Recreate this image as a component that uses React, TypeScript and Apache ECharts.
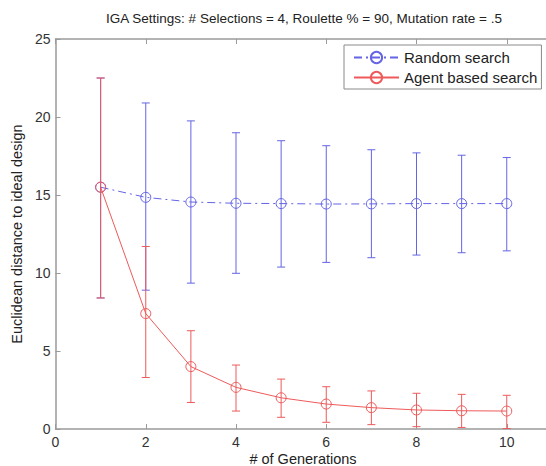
import React, { useEffect, useRef } from "react";
import * as echarts from "echarts";

const generations = [1, 2, 3, 4, 5, 6, 7, 8, 9, 10];
const randomMean = [15.5, 14.85, 14.55, 14.47, 14.45, 14.42, 14.43, 14.45, 14.45, 14.45];
const randomLow = [8.4, 8.9, 9.35, 9.98, 10.38, 10.68, 10.98, 11.15, 11.3, 11.42];
const randomHigh = [22.5, 20.9, 19.75, 18.99, 18.48, 18.16, 17.9, 17.7, 17.55, 17.4];
const agentMean = [15.5, 7.4, 4.0, 2.67, 2.0, 1.6, 1.37, 1.22, 1.17, 1.15];
const agentLow = [8.4, 3.3, 1.7, 1.15, 0.75, 0.43, 0.28, 0.15, 0.1, 0.03];
const agentHigh = [22.5, 11.7, 6.3, 4.1, 3.2, 2.71, 2.44, 2.29, 2.22, 2.16];
const xTicks = [0, 2, 4, 6, 8, 10];
const yTicks = [0, 5, 10, 15, 20, 25];

const BLUE = "#6464e6";
const RED = "#ee5a5a";
const AXIS = "#9a9a9a";
const FONT = "Liberation Sans, Arial, Helvetica, sans-serif";

function errorRender(color: string) {
  return (params: any, api: any) => {
    const x = api.value(0);
    const lo = api.coord([x, api.value(1)]);
    const hi = api.coord([x, api.value(2)]);
    const w = 4;
    const style = { stroke: color, lineWidth: 1 };
    return {
      type: "group",
      children: [
        { type: "line", shape: { x1: lo[0], y1: lo[1], x2: hi[0], y2: hi[1] }, style },
        { type: "line", shape: { x1: lo[0] - w, y1: lo[1], x2: lo[0] + w, y2: lo[1] }, style },
        { type: "line", shape: { x1: hi[0] - w, y1: hi[1], x2: hi[0] + w, y2: hi[1] }, style },
      ],
    };
  };
}

export default function App() {
  const ref = useRef<HTMLDivElement>(null);
  useEffect(() => {
    if (!ref.current) return;
    const chart = echarts.init(ref.current, undefined, { renderer: "svg" });
    const axisCommon = {
      axisLine: { show: true, lineStyle: { color: AXIS, width: 1.5 } },
      axisTick: { show: true, inside: true, length: 5, lineStyle: { color: AXIS } },
      splitLine: { show: false },
    };
    chart.setOption({
      animation: false,
      backgroundColor: "#ffffff",
      graphic: [
        {
          type: "text",
          x: 304,
          y: 18,
          style: {
            text: "IGA Settings: # Selections = 4, Roulette % = 90, Mutation rate = .5",
            font: `13.5px ${FONT}`,
            fill: "#222",
            align: "center",
            verticalAlign: "middle",
            textAlign: "center",
            textVerticalAlign: "middle",
          },
        },
        {
          type: "text",
          x: 303,
          y: 459,
          style: {
            text: "# of Generations",
            font: `14.5px ${FONT}`,
            fill: "#222",
            align: "center",
            verticalAlign: "middle",
            textAlign: "center",
            textVerticalAlign: "middle",
          },
        },
      ],
      grid: { left: 55.5, top: 39, bottom: 37, width: 541.5, outerBoundsMode: "none", containLabel: false },
      legend: {
        data: ["Random search", "Agent based search"],
        orient: "vertical",
        left: 344,
        top: 45,
        itemWidth: 45,
        itemHeight: 14,
        itemGap: 5,
        padding: [5, 4, 4, 9],
        borderColor: "#8a8a8a",
        borderWidth: 1,
        backgroundColor: "#fff",
        textStyle: { fontFamily: FONT, fontSize: 15, color: "#222" },
      },
      xAxis: [
        {
          type: "value",
          min: 0,
          max: 12,
          interval: 2,
          axisLabel: {
            fontFamily: FONT, fontSize: 14, color: "#333", margin: 6,
            formatter: (v: number) => (xTicks.includes(v) ? String(v) : ""),
          },
          ...axisCommon,
        },
        {
          type: "value",
          position: "top",
          min: 0,
          max: 12,
          interval: 2,
          axisLabel: { show: false },
          ...axisCommon,
        },
      ],
      yAxis: {
        type: "value",
        min: 0,
        max: 25,
        interval: 5,
        name: "Euclidean distance to ideal design",
        nameLocation: "middle",
        nameGap: 29,
        nameTextStyle: { fontFamily: FONT, fontSize: 14.5, color: "#222" },
        axisLabel: {
          fontFamily: FONT, fontSize: 14, color: "#333", margin: 5,
          formatter: (v: number) => (yTicks.includes(v) ? String(v) : ""),
        },
        ...axisCommon,
      },
      series: [
        {
          name: "Random error",
          type: "custom",
          renderItem: errorRender(BLUE),
          data: generations.map((g, i) => [g, randomLow[i], randomHigh[i]]),
          z: 2,
        },
        {
          name: "Random search",
          type: "line",
          data: generations.map((g, i) => [g, randomMean[i]]),
          symbol: "circle",
          symbolSize: 10,
          itemStyle: { color: "rgba(255,255,255,0)", borderColor: BLUE, borderWidth: 1 },
          lineStyle: { color: BLUE, width: 1, type: [8, 4, 2, 4] },
          z: 3,
        },
        {
          name: "Agent error",
          type: "custom",
          renderItem: errorRender(RED),
          data: generations.map((g, i) => [g, agentLow[i], agentHigh[i]]),
          z: 4,
        },
        {
          name: "Agent based search",
          type: "line",
          data: generations.map((g, i) => [g, agentMean[i]]),
          symbol: "circle",
          symbolSize: 10,
          itemStyle: { color: "rgba(255,255,255,0)", borderColor: RED, borderWidth: 1 },
          lineStyle: { color: RED, width: 1 },
          z: 5,
        },
      ],
    });
    return () => chart.dispose();
  }, []);
  return (
    <div
      ref={ref}
      style={{ position: "fixed", left: 0, top: 0, width: 546, height: 466, background: "#fff" }}
    />
  );
}
